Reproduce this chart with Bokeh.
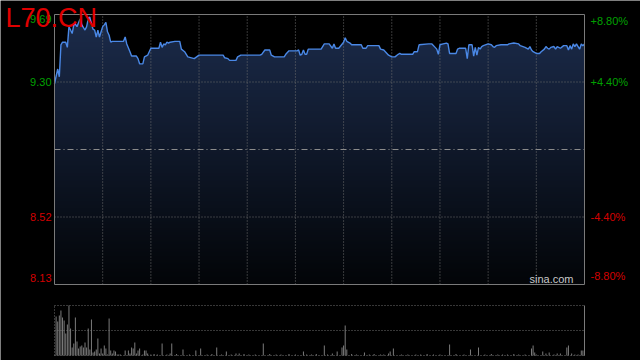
import numpy as np
from bokeh.plotting import figure
from bokeh.models import Range1d, Label
from bokeh.embed import file_html
from bokeh.resources import INLINE

TITLE = "L70.CN"
PREV_CLOSE = 8.91
Y_MIN, Y_MAX = 8.13, 9.69
T_MAX = 330
time_grid = [30, 60, 90, 120, 150, 180, 210, 240, 270, 300]
price_grid = [9.30, 8.52]
left_ticks = [9.69, 9.30, 8.52, 8.13]
left_labels = ["9.69", "9.30", "8.52", "8.13"]
right_labels = ["+8.80%", "+4.40%", "-4.40%", "-8.80%"]

# minute of session, last price
minute = [0, 2, 3, 4, 5, 7, 8, 9, 10, 11,
          12, 13, 14, 16, 17, 19, 20, 21, 22, 23,
          24, 25, 26, 27, 28, 29, 30, 31, 32, 33,
          34, 35, 36, 43, 44, 45, 47, 48, 51, 52,
          53, 55, 56, 58, 59, 60, 65, 66, 67, 68,
          69, 70, 71, 72, 75, 78, 79, 81, 83, 87,
          90, 105, 106, 108, 109, 113, 114, 116, 128, 129,
          131, 134, 135, 137, 143, 144, 146, 151, 152, 153,
          154, 155, 156, 157, 158, 166, 168, 171, 173, 174,
          175, 177, 180, 181, 182, 184, 185, 191, 192, 194,
          195, 202, 203, 205, 208, 210, 212, 214, 215, 216,
          223, 224, 226, 227, 233, 235, 237, 238, 239, 240,
          242, 244, 245, 246, 250, 251, 252, 256, 257, 258,
          260, 261, 262, 263, 264, 265, 266, 267, 270, 272,
          273, 274, 275, 278, 282, 283, 286, 289, 290, 293,
          295, 296, 297, 298, 300, 302, 303, 305, 306, 307,
          308, 309, 311, 312, 313, 315, 317, 319, 320, 321,
          322, 323, 324, 325, 326, 327, 328, 329, 330]
price = [9.29, 9.375, 9.33, 9.515, 9.53, 9.53, 9.50, 9.62, 9.60, 9.58,
         9.63, 9.635, 9.62, 9.665, 9.63, 9.60, 9.62, 9.665, 9.675, 9.635,
         9.605, 9.60, 9.56, 9.60, 9.56, 9.59, 9.62, 9.63, 9.645, 9.59,
         9.57, 9.53, 9.535, 9.535, 9.56, 9.52, 9.475, 9.45, 9.45, 9.435,
         9.405, 9.405, 9.445, 9.455, 9.475, 9.495, 9.495, 9.53, 9.50, 9.52,
         9.515, 9.53, 9.525, 9.53, 9.535, 9.535, 9.49, 9.475, 9.445, 9.435,
         9.455, 9.455, 9.44, 9.435, 9.425, 9.425, 9.445, 9.455, 9.455, 9.46,
         9.485, 9.485, 9.455, 9.445, 9.445, 9.46, 9.48, 9.48, 9.485, 9.455,
         9.46, 9.485, 9.46, 9.46, 9.49, 9.49, 9.52, 9.52, 9.495, 9.52,
         9.495, 9.495, 9.53, 9.555, 9.535, 9.525, 9.515, 9.515, 9.495, 9.495,
         9.51, 9.51, 9.49, 9.485, 9.455, 9.445, 9.445, 9.46, 9.465, 9.46,
         9.46, 9.475, 9.475, 9.515, 9.52, 9.52, 9.50, 9.49, 9.46, 9.515,
         9.52, 9.525, 9.52, 9.465, 9.465, 9.49, 9.495, 9.495, 9.435, 9.515,
         9.515, 9.45, 9.50, 9.455, 9.50, 9.49, 9.505, 9.51, 9.52, 9.515,
         9.505, 9.50, 9.51, 9.515, 9.515, 9.52, 9.525, 9.52, 9.51, 9.50,
         9.49, 9.505, 9.485, 9.475, 9.465, 9.465, 9.475, 9.49, 9.505, 9.495,
         9.49, 9.50, 9.505, 9.49, 9.505, 9.495, 9.51, 9.51, 9.485, 9.51,
         9.49, 9.52, 9.505, 9.52, 9.505, 9.49, 9.52, 9.51, 9.52]

VOL_MAX = 5000
vol_minute = [1, 2, 3, 4, 5, 6, 7, 8, 9, 10,
              11, 12, 13, 14, 15, 16, 17, 18, 19, 20,
              21, 22, 23, 24, 25, 26, 27, 28, 29, 30,
              31, 32, 33, 34, 35, 36, 37, 38, 39, 40,
              41, 44, 46, 47, 48, 49, 50, 51, 52, 53,
              55, 56, 57, 58, 67, 72, 73, 80, 88, 91,
              101, 107, 113, 115, 130, 155, 157, 168, 173, 176,
              179, 180, 181, 182, 193, 203, 205, 208, 209, 211,
              216, 225, 246, 259, 264, 282, 293, 297, 298, 299,
              300, 304, 306, 308, 311, 313, 315, 319, 320, 322,
              324, 326, 328, 329, 330,
              60, 62, 64, 70, 76, 84, 95, 98, 104, 110,
              118, 121, 125, 134, 138, 141, 146, 150, 160, 163,
              170, 185, 188, 196, 199, 220, 228, 232, 236, 240,
              250, 255, 268, 272, 276, 279, 286, 289]
volume = [3900, 3400, 4000, 4500, 3800, 3500, 2200, 3100, 5000, 2700,
          800, 1200, 3800, 1400, 700, 900, 1000, 800, 1300, 800,
          2700, 600, 3600, 300, 400, 600, 1700, 200, 700, 200,
          1000, 700, 100, 3700, 500, 200, 500, 400, 100, 100,
          100, 500, 500, 200, 800, 700, 1300, 200, 500, 700,
          100, 500, 500, 200, 1200, 200, 1200, 600, 500, 700,
          800, 400, 200, 200, 1200, 400, 100, 1000, 200, 400,
          800, 1000, 3000, 600, 300, 100, 100, 200, 400, 700,
          100, 100, 1100, 600, 800, 100, 100, 700, 1000, 300,
          100, 400, 200, 300, 100, 200, 200, 800, 1000, 200,
          100, 100, 500, 500, 800,
          100, 150, 100, 100, 150, 100, 100, 150, 100, 100,
          150, 100, 100, 150, 100, 100, 150, 100, 100, 150,
          100, 150, 100, 100, 150, 100, 100, 150, 100, 100,
          150, 100, 100, 150, 100, 100, 150, 100]

GREEN = "#00a000"
RED = "#d40000"
GRID = "#6e6e6e"
FRAME = "#7a7a7a"
FONT = "Liberation Sans"

# layout (pixels) of the price panel and volume panel inside the 640x360 canvas
W, H = 640, 360
PL, PR, PT, PB = 54, 584, 14, 284
VT, VB = 305, 355
kx = (PR - PL) / T_MAX
ky = (PB - PT) / (Y_MAX - Y_MIN)
kv = (VB - VT) / VOL_MAX
x_range = Range1d(-PL / kx, T_MAX + (W - PR) / kx)
y_range = Range1d(Y_MIN - (H - PB) / ky, Y_MAX + PT / ky)

p = figure(width=W, height=H, x_range=x_range, y_range=y_range,
           x_axis_type=None, y_axis_type=None, toolbar_location=None,
           output_backend="svg", min_border=0, background_fill_color="black",
           border_fill_color="black", outline_line_color=None)
p.extra_y_ranges = {"vol": Range1d(-(H - VB) / kv, VOL_MAX + VT / kv)}

# vertical gradient under the price line
NG = 256
top_c = np.array([28, 44, 76], dtype=float)
bot_c = np.array([3, 5, 8], dtype=float)
frac = np.linspace(0.0, 1.0, NG)[:, None]
rgb = bot_c + (top_c - bot_c) * frac
img = np.empty((NG, 2), dtype=np.uint32)
view = img.view(dtype=np.uint8).reshape((NG, 2, 4))
for c in range(3):
    view[:, :, c] = rgb[:, c:c + 1].astype(np.uint8)
view[:, :, 3] = 255
p.image_rgba(image=[img], x=0, y=Y_MIN, dw=T_MAX, dh=Y_MAX - Y_MIN)
p.varea(x=minute, y1=price, y2=Y_MAX, fill_color="black")

# grid of the price panel
p.segment(x0=time_grid, y0=Y_MIN, x1=time_grid, y1=Y_MAX,
          line_color=GRID, line_dash="1 2", line_width=1)
p.segment(x0=0, y0=price_grid, x1=T_MAX, y1=price_grid,
          line_color=GRID, line_dash="1 2", line_width=1)
p.segment(x0=0, y0=PREV_CLOSE, x1=T_MAX, y1=PREV_CLOSE,
          line_color="#8c8c8c", line_dash="6 3 1 3", line_width=1)

p.line(minute, price, line_color="#4a88e6", line_width=1.4)
p.quad(left=0, right=T_MAX, bottom=Y_MIN, top=Y_MAX, fill_color=None,
       line_color=FRAME, line_width=1)

# volume panel
p.segment(x0=0, y0=[0, VOL_MAX / 2, VOL_MAX], x1=T_MAX, y1=[0, VOL_MAX / 2, VOL_MAX],
          line_color=GRID, line_dash="1 2", line_width=1, y_range_name="vol")
p.segment(x0=0, y0=0, x1=0, y1=VOL_MAX, line_color=GRID, line_dash="1 2",
          line_width=1, y_range_name="vol")
p.segment(x0=T_MAX, y0=0, x1=T_MAX, y1=VOL_MAX, line_color=FRAME,
          line_width=1, y_range_name="vol")
p.vbar(x=vol_minute, top=volume, width=0.62, fill_color="#7c7c7c",
       line_color=None, y_range_name="vol")

baselines = ["top", "middle", "middle", "bottom"]
offsets = [0, 0, 0, 3]
for val, ltxt, rtxt, bl, off in zip(left_ticks, left_labels, right_labels, baselines, offsets):
    col = GREEN if val > PREV_CLOSE else RED
    p.add_layout(Label(x=0, y=val, x_offset=-3, y_offset=off, text=ltxt,
                       text_align="right", text_baseline=bl, text_color=col,
                       text_font=FONT, text_font_size="11px"))
    p.add_layout(Label(x=T_MAX, y=val, x_offset=6, y_offset=off, text=rtxt,
                       text_align="left", text_baseline=bl, text_color=col,
                       text_font=FONT, text_font_size="11px"))

p.add_layout(Label(x=T_MAX, y=Y_MIN, x_offset=-11, y_offset=0, text="sina.com",
                   text_align="right", text_baseline="bottom", text_color="#c8c8c8",
                   text_font=FONT, text_font_size="11px"))
p.add_layout(Label(x=0, y=Y_MAX, x_offset=-49, y_offset=-3, text=TITLE,
                   text_align="left", text_baseline="alphabetic", text_color="#e00000",
                   text_font=FONT, text_font_size="27px"))

open("out.html", "w").write(file_html(p, INLINE))
